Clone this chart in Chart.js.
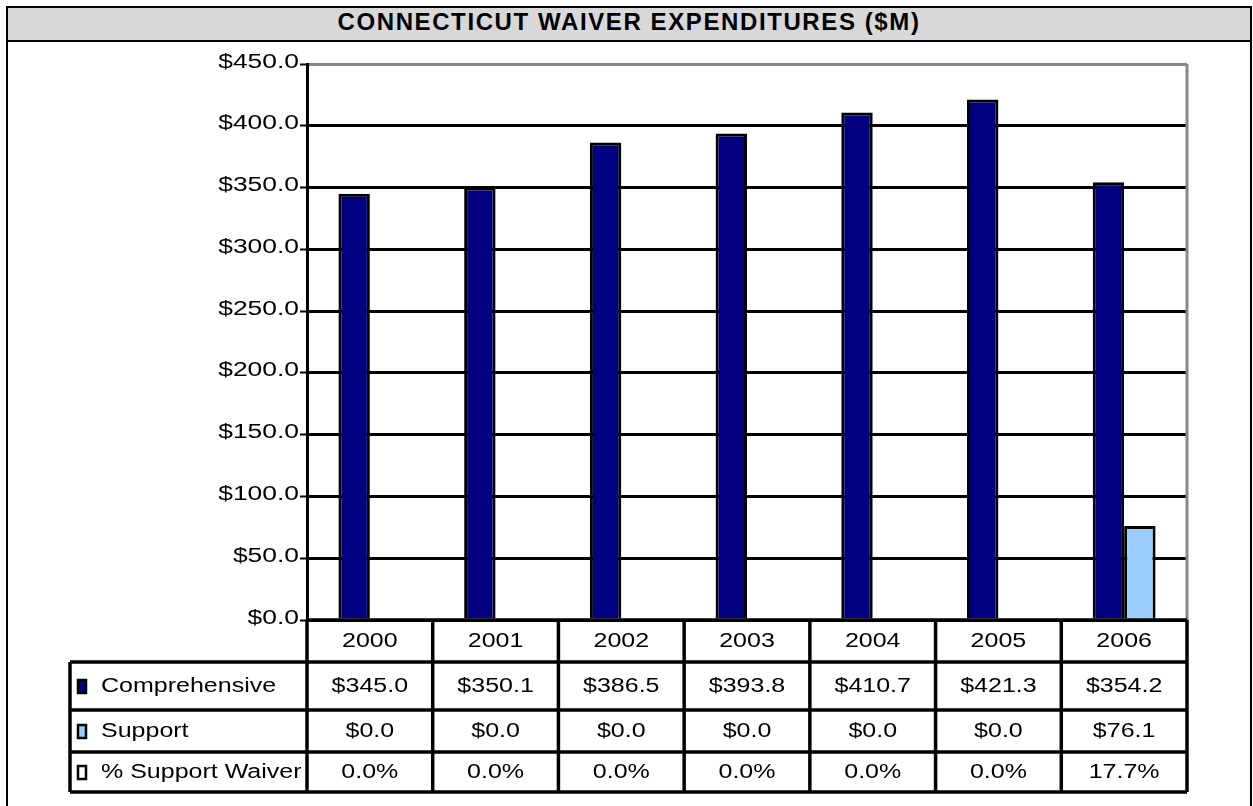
<!DOCTYPE html>
<html lang="en">
<head>
    <meta charset="UTF-8">
    <title>Connecticut Waiver Expenditures</title>
    <style>
        html, body { margin: 0; padding: 0; background: #fff; overflow: hidden; }
        .frame {
            position: absolute; left: 6px; top: 6px; width: 1246px; height: 830px;
            border: 2px solid #000; box-sizing: border-box;
        }
        .title {
            height: 32px; line-height: 33px; background: #d8d8d8;
            border-bottom: 2px solid #000; text-align: center;
            font: bold 24px "Liberation Sans", Arial, sans-serif; letter-spacing: 1.6px;
        }
        #chart { position: absolute; left: 0; top: 0; }
    </style>
</head>
<body>
    <div class="frame"><div class="title">CONNECTICUT WAIVER EXPENDITURES ($M)</div></div>
    <canvas id="chart" width="1253" height="806"></canvas>

    <script src="https://cdn.jsdelivr.net/npm/chart.js@4/dist/chart.umd.min.js"></script>
    <script>
        // values
        var years = ['2000', '2001', '2002', '2003', '2004', '2005', '2006'];
        var comprehensive = [345.0, 350.1, 386.5, 393.8, 410.7, 421.3, 354.2];
        var support = [0.0, 0.0, 0.0, 0.0, 0.0, 0.0, 76.1];
        var supportPct = [0.0, 0.0, 0.0, 0.0, 0.0, 0.0, 17.7];
        var rowNames = ['Comprehensive', 'Support', '% Support Waiver'];

        var FONT = '"Liberation Sans", Arial, sans-serif';

        function stretchText(ctx, txt, x, y, align, sx) {
            ctx.save();
            ctx.translate(x, y);
            ctx.scale(sx, 1);
            ctx.textAlign = align;
            ctx.textBaseline = 'middle';
            ctx.fillText(txt, 0, 0);
            ctx.restore();
        }

        function line(ctx, x1, y1, x2, y2) {
            ctx.beginPath();
            ctx.moveTo(x1, y1);
            ctx.lineTo(x2, y2);
            ctx.stroke();
        }

        // y labels + right border + data table under the plot
        var tablePlugin = {
            id: 'dataTable',
            afterDraw: function (chart) {
                var ctx = chart.ctx;
                var area = chart.chartArea;
                var xs = chart.scales.x;
                var ys = chart.scales.y;

                ctx.save();
                // y tick labels
                ctx.fillStyle = '#000';
                ctx.font = '20px ' + FONT;
                ys.ticks.forEach(function (t) {
                    stretchText(ctx, '$' + t.value.toFixed(1), 299, ys.getPixelForValue(t.value) - 2, 'right', 1.32);
                });

                // right border of plot
                ctx.strokeStyle = '#888';
                ctx.lineWidth = 3;
                line(ctx, area.right, area.top, area.right, area.bottom);

                var half = (xs.getPixelForValue(1) - xs.getPixelForValue(0)) / 2;
                var rowY = [area.bottom, 662, 710, 752, 792];
                var tableLeft = 70;

                ctx.strokeStyle = '#000';
                ctx.lineWidth = 3.5;
                // year row
                line(ctx, area.left, area.bottom, area.right, area.bottom);
                // data rows
                for (var r = 1; r < rowY.length; r++) {
                    line(ctx, tableLeft, rowY[r], area.right, rowY[r]);
                }
                line(ctx, tableLeft, rowY[1], tableLeft, rowY[4]);
                line(ctx, area.left, area.bottom, area.left, rowY[4]);
                years.forEach(function (y, i) {
                    var xr = xs.getPixelForValue(i) + half;
                    line(ctx, xr, area.bottom, xr, rowY[4]);
                });

                // cell text
                ctx.font = '20px ' + FONT;
                ctx.fillStyle = '#000';
                var rows = [
                    years,
                    comprehensive.map(function (v) { return '$' + v.toFixed(1); }),
                    support.map(function (v) { return '$' + v.toFixed(1); }),
                    supportPct.map(function (v) { return v.toFixed(1) + '%'; })
                ];
                rows.forEach(function (vals, r) {
                    var cy = (rowY[r] + rowY[r + 1]) / 2;
                    vals.forEach(function (v, i) {
                        stretchText(ctx, v, xs.getPixelForValue(i), cy, 'center', 1.25);
                    });
                });

                // row labels with legend keys
                var keyFill = ['#000080', '#99ccff', '#ffffff'];
                rowNames.forEach(function (name, k) {
                    var cy = (rowY[k + 1] + rowY[k + 2]) / 2;
                    ctx.fillStyle = keyFill[k];
                    ctx.strokeStyle = '#000';
                    ctx.lineWidth = 2.5;
                    ctx.fillRect(78, cy - 6, 8, 13);
                    ctx.strokeRect(78, cy - 6, 8, 13);
                    ctx.fillStyle = '#000';
                    stretchText(ctx, name, 101, cy, 'left', 1.25);
                });
                ctx.restore();
            }
        };

        new Chart(document.getElementById('chart'), {
            type: 'bar',
            data: {
                labels: years,
                datasets: [{
                    label: 'Comprehensive',
                    data: comprehensive,
                    backgroundColor: '#000080',
                    borderColor: '#000',
                    borderWidth: 3
                }, {
                    label: 'Support',
                    data: support,
                    backgroundColor: '#99ccff',
                    borderColor: '#000',
                    borderWidth: 3
                }]
            },
            options: {
                responsive: false,
                animation: false,
                categoryPercentage: 0.5,
                barPercentage: 1.0,
                layout: { padding: { left: 0, right: 66, top: 64, bottom: 186 } },
                plugins: {
                    legend: { display: false },
                    tooltip: { enabled: false }
                },
                scales: {
                    x: { display: false },
                    y: {
                        min: 0,
                        max: 450,
                        afterFit: function (s) { s.width = 307; },
                        ticks: { stepSize: 50, color: 'rgba(0,0,0,0)', font: { size: 19 } },
                        grid: {
                            color: function (c) { return c.tick && c.tick.value === 450 ? '#888' : '#000'; },
                            lineWidth: 3,
                            tickLength: 7,
                            tickColor: '#000',
                            tickWidth: 2
                        },
                        border: { color: '#000', width: 3 }
                    }
                }
            },
            plugins: [tablePlugin]
        });
    </script>
</body>
</html>
